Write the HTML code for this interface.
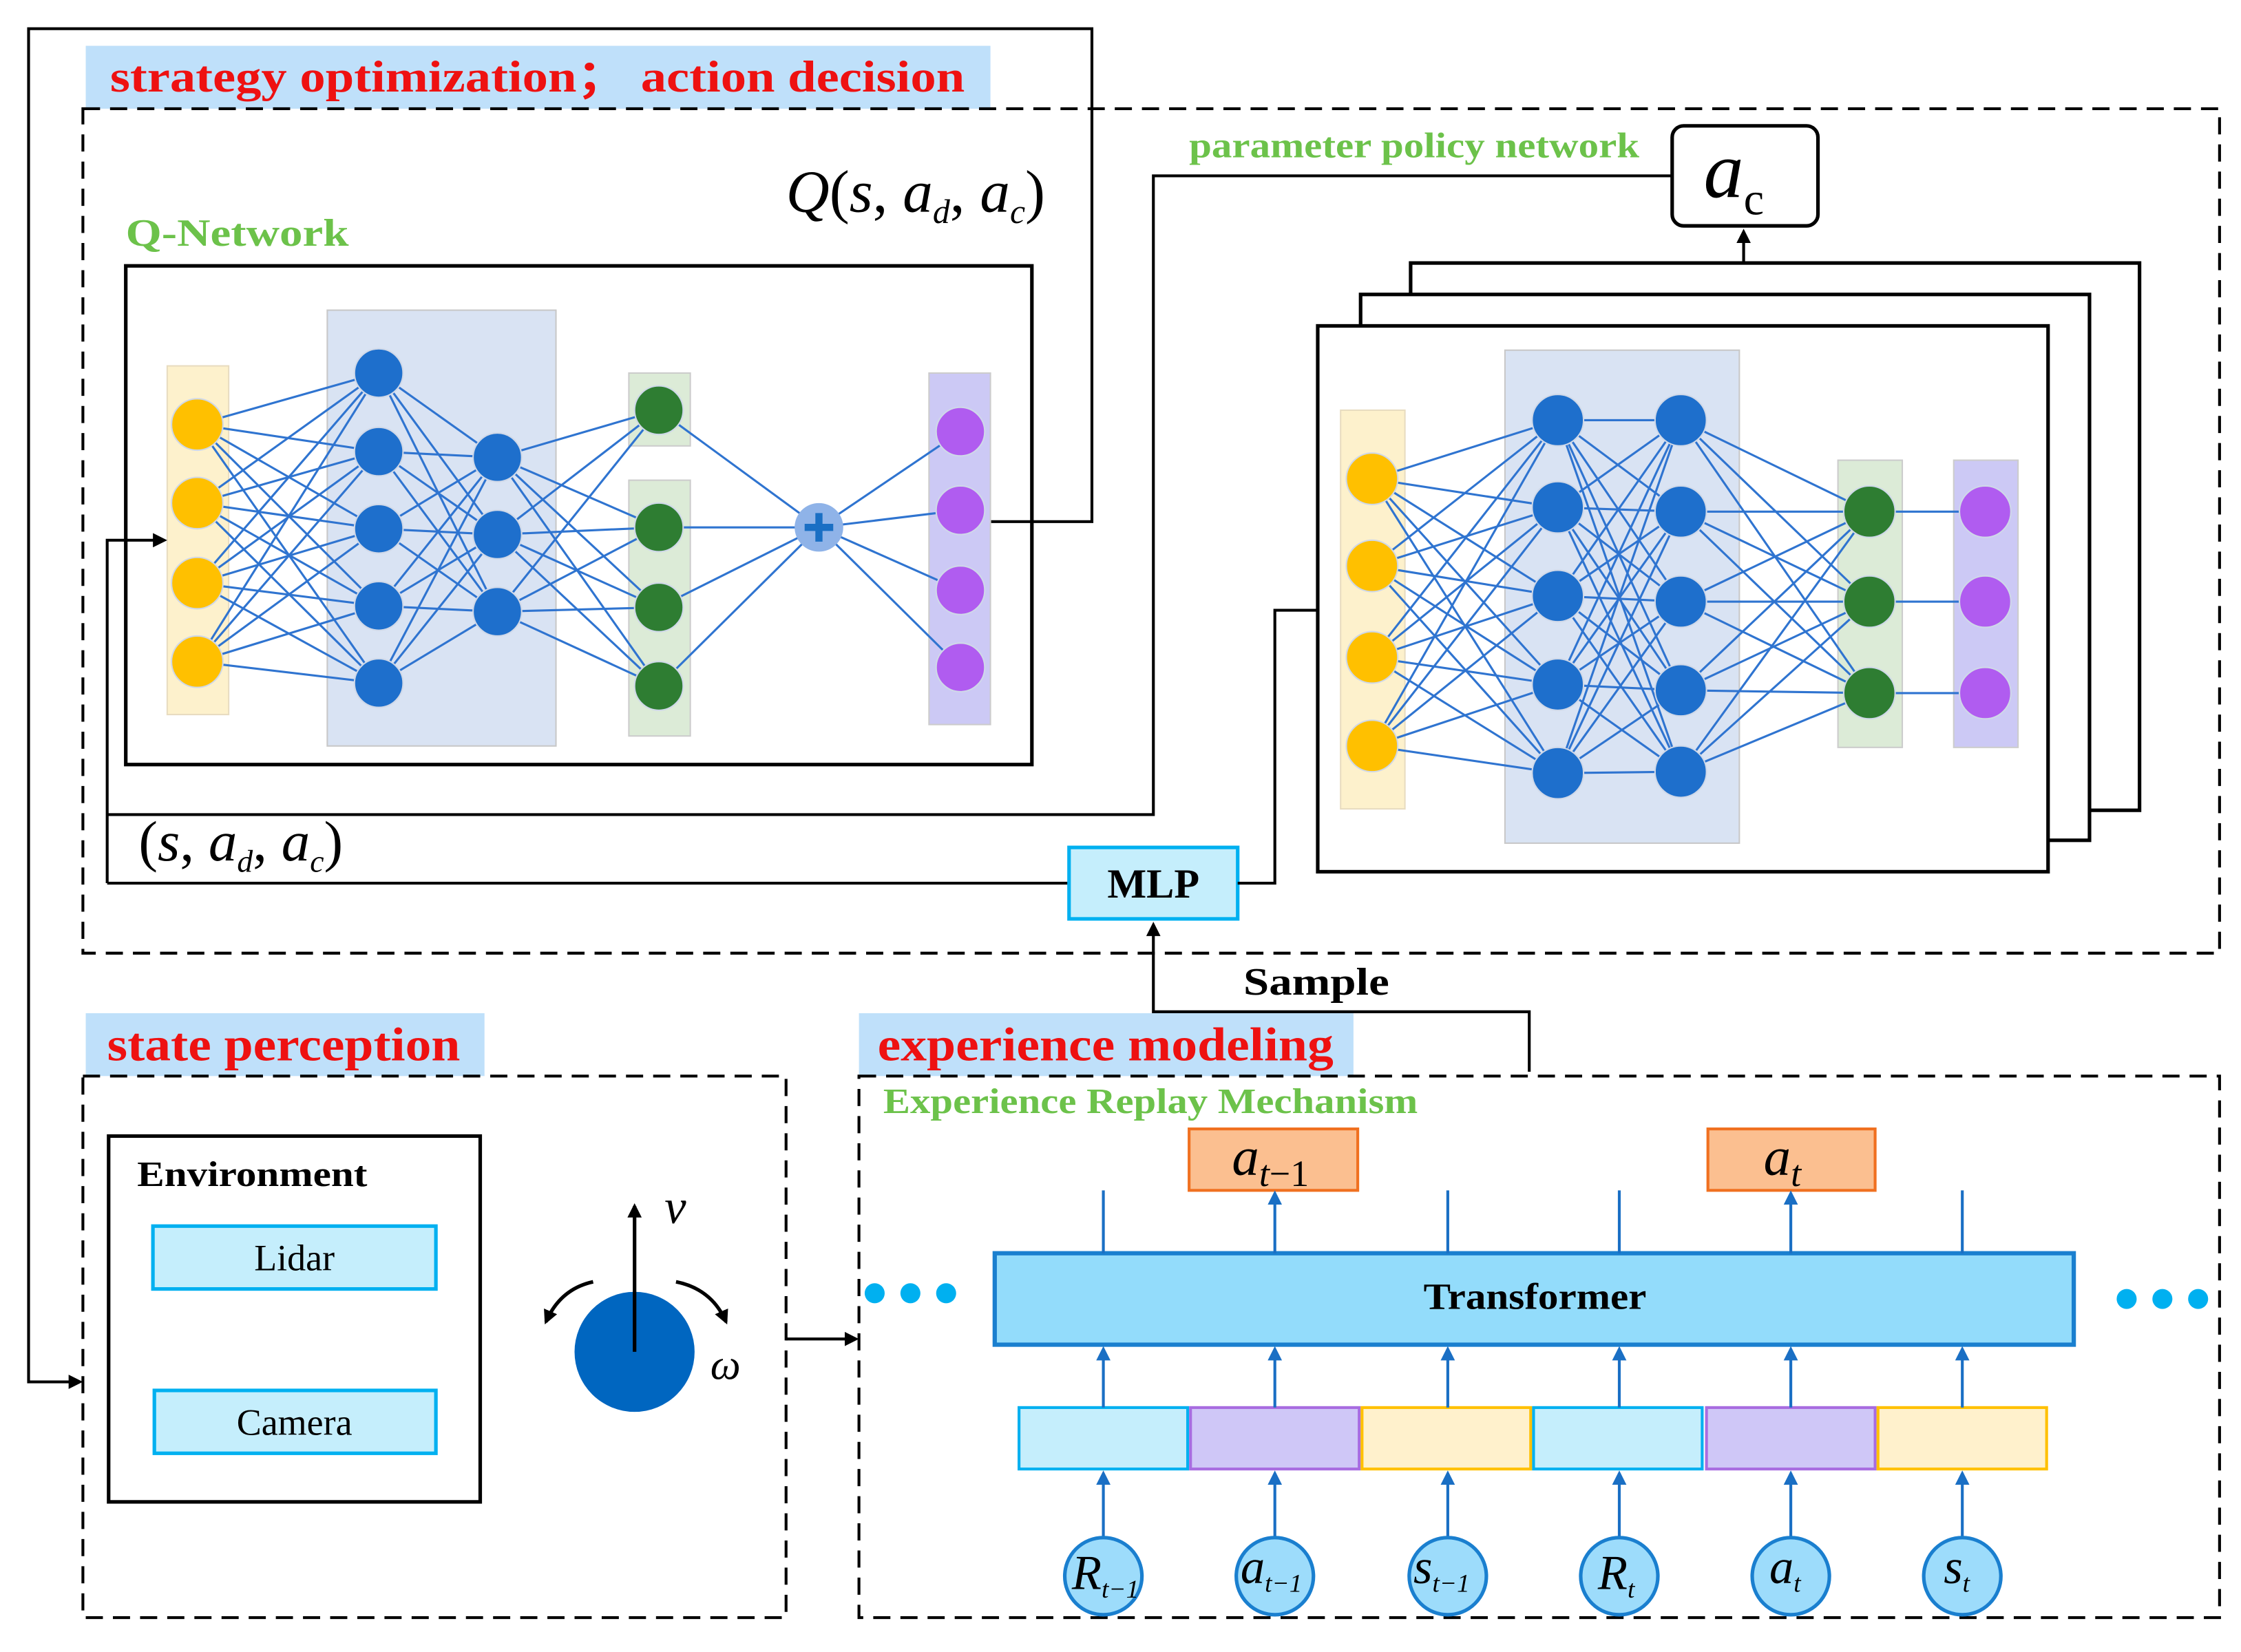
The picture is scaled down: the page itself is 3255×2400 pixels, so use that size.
<!DOCTYPE html>
<html><head><meta charset="utf-8"><style>
html,body{margin:0;padding:0;background:#fff}
svg{display:block}
text{font-family:"Liberation Serif",serif}
</style></head><body>
<svg id="s" width="3255" height="2400" viewBox="0 0 1568 1156" xmlns="http://www.w3.org/2000/svg">
<defs>
<marker id="ar" markerWidth="10" markerHeight="10" refX="8" refY="5" orient="auto" markerUnits="userSpaceOnUse"><path d="M0,0 L10,5 L0,10 z" fill="#000"/></marker>
<marker id="ab" markerWidth="10" markerHeight="10" refX="8" refY="5" orient="auto" markerUnits="userSpaceOnUse"><path d="M0,0 L10,5 L0,10 z" fill="#1a6fc4"/></marker>
</defs>
<rect width="1568" height="1156" fill="#fff"/>
<polyline points="693,365 764,365 764,20 20,20 20,967 56,967" fill="none" stroke="#000" stroke-width="2" marker-end="url(#ar)"/>
<rect x="60" y="32" width="633" height="44" fill="#bfe0fa"/>
<text x="77" y="64" font-size="31" font-weight="bold" fill="#ee1111" textLength="598" lengthAdjust="spacingAndGlyphs">strategy optimization；  action decision</text>
<rect x="58" y="76" width="1495" height="591" fill="none" stroke="#000" stroke-width="2" stroke-dasharray="12,7"/>
<text x="550" y="148" font-size="42" font-style="italic">Q<tspan font-style="normal">(</tspan>s<tspan font-style="normal">, </tspan>a<tspan font-size="24" dy="8">d</tspan><tspan dy="-8" font-style="normal">, </tspan>a<tspan font-size="24" dy="8">c</tspan><tspan dy="-8" font-style="normal">)</tspan></text>
<text x="88" y="172" font-size="27" font-weight="bold" fill="#6cc24a" textLength="156" lengthAdjust="spacingAndGlyphs">Q-Network</text>
<rect x="88" y="186" width="634" height="349" fill="none" stroke="#000" stroke-width="2.5"/>
<rect x="117" y="256" width="43" height="244" fill="#fdf1cc" stroke="#e8dcc0"/>
<rect x="229" y="217" width="160" height="305" fill="#d9e3f3" stroke="#c8c8c8"/>
<rect x="440" y="261" width="43" height="51" fill="#dcebd7" stroke="#ccc"/>
<rect x="440" y="336" width="43" height="179" fill="#dcebd7" stroke="#ccc"/>
<rect x="650" y="261" width="43" height="246" fill="#ccc9f5" stroke="#ccc"/>
<g id="qlines" stroke="#2f74d0" stroke-width="1.5"></g>
<g id="qnodes"></g>
<circle cx="573" cy="369" r="17" fill="#8fb3e8"/>
<path d="M563,369 H583 M573,359 V379" stroke="#1a6fc4" stroke-width="5"/>
<polyline points="75,618 75,378 115,378" fill="none" stroke="#000" stroke-width="2" marker-end="url(#ar)"/>
<polyline points="75,570 807,570 807,123 1170,123" fill="none" stroke="#000" stroke-width="2"/>
<line x1="75" y1="618" x2="748" y2="618" stroke="#000" stroke-width="2"/>
<text x="97" y="602" font-size="40" font-style="italic"><tspan font-style="normal">(</tspan>s<tspan font-style="normal">, </tspan>a<tspan font-size="22" dy="8">d</tspan><tspan dy="-8" font-style="normal">, </tspan>a<tspan font-size="22" dy="8">c</tspan><tspan dy="-8" font-style="normal">)</tspan></text>
<rect x="748" y="593" width="118" height="50" fill="#c5eefc" stroke="#00b0f0" stroke-width="2.5"/>
<text x="807" y="628" font-size="29" font-weight="bold" text-anchor="middle">MLP</text>
<polyline points="866,618 892,618 892,427 935,427" fill="none" stroke="#000" stroke-width="2" marker-end="url(#ar)"/>
<polyline points="1070,750 1070,708 807,708 807,647" fill="none" stroke="#000" stroke-width="2" marker-end="url(#ar)"/>
<text x="870" y="696" font-size="27" font-weight="bold" textLength="102" lengthAdjust="spacingAndGlyphs">Sample</text>
<text x="832" y="110" font-size="25" font-weight="bold" fill="#6cc24a" textLength="315" lengthAdjust="spacingAndGlyphs">parameter policy network</text>
<rect x="1170" y="88" width="102" height="70" rx="8" fill="#fff" stroke="#000" stroke-width="2.5"/>
<text x="1192" y="138" font-size="56" font-style="italic">a<tspan font-style="normal" font-size="32" dy="12">c</tspan></text>
<rect x="987" y="184" width="510" height="383" fill="#fff" stroke="#000" stroke-width="2.5"/>
<rect x="952" y="206" width="510" height="382" fill="#fff" stroke="#000" stroke-width="2.5"/>
<rect x="922" y="228" width="511" height="382" fill="#fff" stroke="#000" stroke-width="2.5"/>
<line x1="1220" y1="184" x2="1220" y2="162" stroke="#000" stroke-width="2" marker-end="url(#ar)"/>
<rect x="938" y="287" width="45" height="279" fill="#fdf1cc" stroke="#e8dcc0"/>
<rect x="1053" y="245" width="164" height="345" fill="#d9e3f3" stroke="#c8c8c8"/>
<rect x="1286" y="322" width="45" height="201" fill="#dcebd7" stroke="#ccc"/>
<rect x="1367" y="322" width="45" height="201" fill="#ccc9f5" stroke="#ccc"/>
<g id="plines" stroke="#2f74d0" stroke-width="1.5"></g>
<g id="pnodes"></g>
<rect x="60" y="709" width="279" height="44" fill="#bfe0fa"/>
<text x="75" y="742" font-size="33" font-weight="bold" fill="#ee1111" textLength="247" lengthAdjust="spacingAndGlyphs">state perception</text>
<rect x="58" y="753" width="492" height="379" fill="none" stroke="#000" stroke-width="2" stroke-dasharray="12,7"/>
<rect x="76" y="795" width="260" height="256" fill="none" stroke="#000" stroke-width="2.5"/>
<text x="96" y="830" font-size="25" font-weight="bold" textLength="161" lengthAdjust="spacingAndGlyphs">Environment</text>
<rect x="107" y="858" width="198" height="44" fill="#c5eefc" stroke="#00b0f0" stroke-width="2.5"/>
<text x="206" y="889" font-size="26" text-anchor="middle">Lidar</text>
<rect x="108" y="973" width="197" height="44" fill="#c5eefc" stroke="#00b0f0" stroke-width="2.5"/>
<text x="206" y="1004" font-size="26" text-anchor="middle">Camera</text>
<circle cx="444" cy="946" r="42" fill="#0066c0"/>
<line x1="444" y1="946" x2="444" y2="844" stroke="#000" stroke-width="2.5" marker-end="url(#ar)"/>
<text x="465" y="856" font-size="34" font-style="italic">v</text>
<path d="M415,897 Q392,902 382,925" fill="none" stroke="#000" stroke-width="2.5" marker-end="url(#ar)"/>
<path d="M473,897 Q498,902 508,925" fill="none" stroke="#000" stroke-width="2.5" marker-end="url(#ar)"/>
<text x="497" y="965" font-size="30" font-style="italic">ω</text>
<line x1="550" y1="937" x2="599" y2="937" stroke="#000" stroke-width="2" marker-end="url(#ar)"/>
<rect x="601" y="709" width="346" height="44" fill="#bfe0fa"/>
<text x="614" y="742" font-size="33" font-weight="bold" fill="#ee1111" textLength="319" lengthAdjust="spacingAndGlyphs">experience modeling</text>
<rect x="601" y="753" width="952" height="379" fill="none" stroke="#000" stroke-width="2" stroke-dasharray="12,7"/>
<text x="618" y="779" font-size="25" font-weight="bold" fill="#6cc24a" textLength="374" lengthAdjust="spacingAndGlyphs">Experience Replay Mechanism</text>
<rect x="696" y="877" width="755" height="64" fill="#93dcfb" stroke="#1a7fcf" stroke-width="3"/>
<text x="996" y="916" font-size="26" font-weight="bold" textLength="156" lengthAdjust="spacingAndGlyphs">Transformer</text>
<g fill="#00b0f0"><circle cx="612" cy="905" r="7"/><circle cx="637" cy="905" r="7"/><circle cx="662" cy="905" r="7"/><circle cx="1488" cy="909" r="7"/><circle cx="1513" cy="909" r="7"/><circle cx="1538" cy="909" r="7"/></g>
<rect x="832" y="790" width="118" height="43" fill="#fbbf90" stroke="#f07020" stroke-width="2"/>
<text x="862" y="822" font-size="38" font-style="italic">a<tspan font-size="26" dy="8">t</tspan><tspan font-size="26" font-style="normal">−1</tspan></text>
<rect x="1195" y="790" width="117" height="43" fill="#fbbf90" stroke="#f07020" stroke-width="2"/>
<text x="1234" y="822" font-size="38" font-style="italic">a<tspan font-size="26" dy="8">t</tspan></text>
<g id="tok"></g>
<g font-size="34" font-style="italic" id="lbl">
<text x="750" y="1112">R<tspan font-size="18" dy="6">t−1</tspan></text>
<text x="868" y="1108">a<tspan font-size="18" dy="6">t−1</tspan></text>
<text x="989" y="1108">s<tspan font-size="18" dy="6">t−1</tspan></text>
<text x="1118" y="1112">R<tspan font-size="18" dy="6">t</tspan></text>
<text x="1238" y="1108">a<tspan font-size="18" dy="6">t</tspan></text>
<text x="1360" y="1108">s<tspan font-size="18" dy="6">t</tspan></text>
</g>
</svg>
<script>
var NS="http://www.w3.org/2000/svg";
function el(p,t,a){var e=document.createElementNS(NS,t);for(var k in a)e.setAttribute(k,a[k]);p.appendChild(e);return e;}
function full(g,A,B){A.forEach(function(a){B.forEach(function(b){el(g,"line",{x1:a[0],y1:a[1],x2:b[0],y2:b[1]});});});}
function col(x,ys){return ys.map(function(y){return [x,y];});}
function nodes(g,pts,c,r){pts.forEach(function(p){el(g,"circle",{cx:p[0],cy:p[1],r:r,fill:c,stroke:"#cfd8e8","stroke-width":1});});}
var ql=document.getElementById("qlines"),qn=document.getElementById("qnodes");
var i1=col(138,[297,352,408,463]),c1=col(265,[261,316,370,424,478]),c2=col(348,[320,374,428]),gr=col(461,[287,369,425,480]),pl=[[573,369]],pu=col(672,[302,357,413,467]);
full(ql,i1,c1);full(ql,c1,c2);full(ql,c2,gr);full(ql,gr,pl);full(ql,pl,pu);
nodes(qn,i1,"#ffc000",18);nodes(qn,c1,"#1e6fcc",17);nodes(qn,c2,"#1e6fcc",17);nodes(qn,gr,"#2e7d32",17);nodes(qn,pu,"#b05cf0",17);
var pL=document.getElementById("plines"),pN=document.getElementById("pnodes");
var j1=col(960,[335,396,460,522]),d1=col(1090,[294,355,417,479,541]),d2=col(1176,[294,358,421,483,540]),g2=col(1308,[358,421,485]),u2=col(1389,[358,421,485]);
full(pL,j1,d1);full(pL,d1,d2);full(pL,d2,g2);g2.forEach(function(a,i){el(pL,"line",{x1:a[0],y1:a[1],x2:u2[i][0],y2:u2[i][1]});});
nodes(pN,j1,"#ffc000",18);nodes(pN,d1,"#1e6fcc",18);nodes(pN,d2,"#1e6fcc",18);nodes(pN,g2,"#2e7d32",18);nodes(pN,u2,"#b05cf0",18);
var T=document.getElementById("tok");
var xs=[713,833,953,1073,1194,1314],cx=[772,892,1013,1133,1253,1373];
var fills=[["#c5eefc","#00b0f0"],["#cfc7f7","#a86ce0"],["#fff1cc","#ffc000"]];
xs.forEach(function(x,i){var f=fills[i%3];el(T,"rect",{x:x,y:985,width:118,height:43,fill:f[0],stroke:f[1],"stroke-width":2});});
cx.forEach(function(x,i){
 el(T,"line",{x1:x,y1:985,x2:x,y2:944,stroke:"#1a6fc4","stroke-width":2,"marker-end":"url(#ab)"});
 var top=(i==1||i==4);
 var a={x1:x,y1:877,x2:x,y2:top?835:833,stroke:"#1a6fc4","stroke-width":2};
 if(top)a["marker-end"]="url(#ab)";
 el(T,"line",a);
 el(T,"line",{x1:x,y1:1076,x2:x,y2:1031,stroke:"#1a6fc4","stroke-width":2,"marker-end":"url(#ab)"});
 el(T,"circle",{cx:x,cy:1103,r:27,fill:"#9ddcfb",stroke:"#1a7fcf","stroke-width":2.5});
});
</script>
</body></html>
